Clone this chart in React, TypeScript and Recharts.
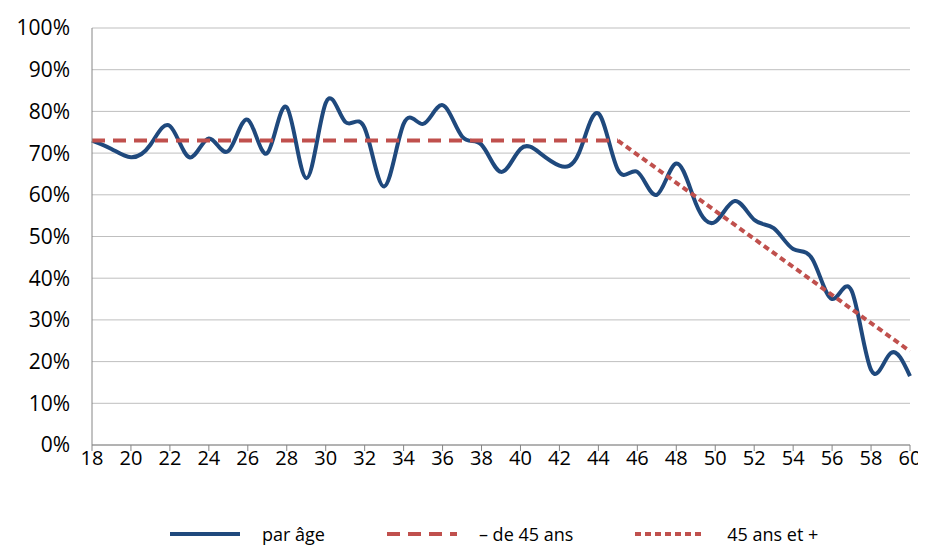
import { CartesianGrid, Line, LineChart, XAxis, YAxis, Legend } from 'recharts'

const ages = [18, 19, 20, 21, 22, 23, 24, 25, 26, 27, 28, 29, 30, 31, 32, 33, 34, 35, 36, 37, 38, 39, 40, 41, 42, 43, 44, 45, 46, 47, 48, 49, 50, 51, 52, 53, 54, 55, 56, 57, 58, 59, 60]
const parAge = [73, 71, 69, 72, 76.5, 69, 73.5, 70.5, 78, 70, 81, 64, 82, 77.5, 76, 62, 77, 77, 81.5, 74, 72, 65.5, 71, 70, 67, 70, 79.5, 66, 65.5, 60, 67.5, 58, 53.5, 58.5, 54, 52, 47, 44.5, 35, 37, 18, 22, 16.5]
// flat line until 45, then the trend from 45 to 60 (end points only)
const moins45: Record<number, number> = { 18: 73, 45: 73 }
const plus45: Record<number, number> = { 45: 73, 60: 22.5 }

const data = ages.map((a, i) => ({
  age: a,
  parAge: parAge[i],
  moins45: moins45[a],
  plus45: plus45[a],
}))

const FONT = '"Open Sans", sans-serif'
const BLUE = '#1F497D'
const RED = '#C0504D'

const legendItems = [
  { label: 'par âge', color: BLUE, dash: undefined },
  { label: '– de 45 ans', color: RED, dash: '13 8' },
  { label: '45 ans et +', color: RED, dash: '6 4' },
]

function LegendContent() {
  return (
    <div style={{ display: 'flex', justifyContent: 'flex-start', gap: 60, fontFamily: FONT, fontSize: 18, color: '#000', marginLeft: 160 }}>
      {legendItems.map((it) => (
        <div key={it.label} style={{ display: 'flex', alignItems: 'center', gap: 20 }}>
          <svg width={74} height={10}>
            <line x1={2} y1={5} x2={72} y2={5} stroke={it.color} strokeWidth={4} strokeDasharray={it.dash} />
          </svg>
          <span>{it.label}</span>
        </div>
      ))}
    </div>
  )
}

export default function App() {
  return (
    <LineChart width={918} height={540} data={data} margin={{ top: 20, right: 16, left: 0, bottom: 11 }}>
      <CartesianGrid vertical={false} stroke="#BFBFBF" />
      <XAxis
        dataKey="age"
        interval={1}
        tick={{ fill: '#000', fontSize: 20, fontFamily: FONT, dy: -2 }}
        stroke="#868686"
        tickLine={{ stroke: '#868686' }}
        height={42}
      />
      <YAxis
        domain={[0, 100]}
        ticks={[0, 10, 20, 30, 40, 50, 60, 70, 80, 90, 100]}
        tickFormatter={(v) => `${v}%`}
        tick={{ fill: '#000', fontSize: 21, fontFamily: FONT }}
        stroke="#868686"
        tickLine={false}
        tickMargin={16}
        width={84}
      />
      <Legend verticalAlign="bottom" height={50} wrapperStyle={{ top: 514, left: 0 }} content={<LegendContent />} />
      <Line type="natural" dataKey="parAge" stroke={BLUE} strokeWidth={4} dot={false} isAnimationActive={false} />
      <Line type="linear" dataKey="moins45" stroke={RED} strokeWidth={4} strokeDasharray="13 8" dot={false} connectNulls isAnimationActive={false} />
      <Line type="linear" dataKey="plus45" stroke={RED} strokeWidth={4} strokeDasharray="6 4" dot={false} connectNulls isAnimationActive={false} />
    </LineChart>
  )
}
